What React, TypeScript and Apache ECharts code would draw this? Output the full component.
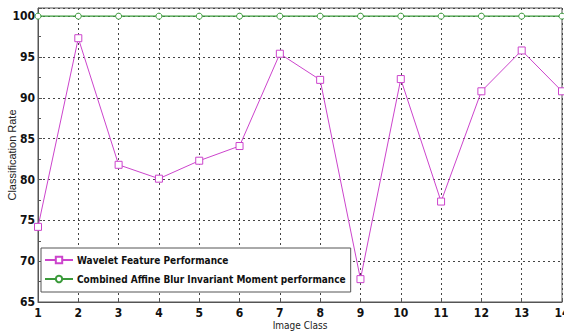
import React, { useEffect, useRef } from "react";
import * as echarts from "echarts";

const classes = [1, 2, 3, 4, 5, 6, 7, 8, 9, 10, 11, 12, 13, 14];
const waveletValues = [74.2, 97.3, 81.8, 80.1, 82.3, 84.1, 95.4, 92.2, 67.8, 92.3, 77.3, 90.8, 95.8, 90.8];
const combinedValues = [100, 100, 100, 100, 100, 100, 100, 100, 100, 100, 100, 100, 100, 100];
const seriesNames = ["Wavelet Feature Performance", "Combined Affine Blur Invariant Moment performance"];

const NARROW = "'Liberation Sans Narrow', 'DejaVu Sans Condensed', 'Liberation Sans', Arial, sans-serif";

export default function App() {
  const ref = useRef<HTMLDivElement>(null);
  useEffect(() => {
    if (!ref.current) return;
    const chart = echarts.init(ref.current, null, { renderer: "svg" });
    chart.setOption({
      animation: false,
      backgroundColor: "#ffffff",
      grid: { left: 38, right: 2, top: 8, bottom: 29, show: true, borderColor: "#555", borderWidth: 1, backgroundColor: "transparent", containLabel: false, outerBoundsMode: "none" },
      legend: {
        orient: "vertical",
        left: 41,
        top: 248,
        backgroundColor: "#ffffff",
        borderColor: "#555",
        borderWidth: 1,
        borderRadius: 0,
        padding: [7, 5, 8, 3],
        itemGap: 9,
        itemWidth: 28,
        itemHeight: 8,
        textStyle: { fontFamily: NARROW, fontSize: 10, fontWeight: "bold", color: "#111", padding: [0, 0, 0, -1] },
        data: seriesNames,
      },
      xAxis: {
        type: "value",
        min: 1,
        max: 14,
        interval: 1,
        name: "Image Class",
        nameLocation: "middle",
        nameGap: 18,
        nameMoveOverlap: false,
        nameTextStyle: { fontFamily: NARROW, fontSize: 10, color: "#222", verticalAlign: "top" },
        axisLine: { show: true, lineStyle: { color: "#555" } },
        axisTick: { show: true, inside: true, length: 4, lineStyle: { color: "#555" } },
        axisLabel: { fontFamily: NARROW, fontSize: 12, fontWeight: "bold", color: "#111", margin: 5 },
        splitLine: { show: true, lineStyle: { color: "#444", type: [2, 3], width: 1 } },
      },
      yAxis: {
        type: "value",
        min: 65,
        max: 101,
        interval: 5,
        name: "Classification Rate",
        nameLocation: "middle",
        nameGap: 21,
        nameMoveOverlap: false,
        nameTextStyle: { fontFamily: "'Liberation Sans', Arial, sans-serif", fontSize: 11, color: "#222" },
        axisLine: { show: true, lineStyle: { color: "#555" } },
        axisTick: { show: true, inside: true, length: 4, lineStyle: { color: "#555" } },
        minorTick: { show: true, splitNumber: 2, length: 3, lineStyle: { color: "#555" } },
        axisLabel: { fontFamily: NARROW, fontSize: 12, fontWeight: "bold", color: "#111", margin: 3 },
        splitLine: { show: true, lineStyle: { color: "#444", type: [2, 3], width: 1 } },
      },
      series: [
        {
          name: seriesNames[0],
          type: "line",
          data: classes.map((c, i) => [c, waveletValues[i]]),
          symbol: "rect",
          symbolSize: 7,
          showAllSymbol: true,
          itemStyle: { color: "#ffffff", borderColor: "#cc44cc", borderWidth: 1 },
          lineStyle: { color: "#cc44cc", width: 1 },
          z: 3,
        },
        {
          name: seriesNames[1],
          type: "line",
          data: classes.map((c, i) => [c, combinedValues[i]]),
          symbol: "circle",
          symbolSize: 6,
          showAllSymbol: true,
          itemStyle: { color: "#ffffff", borderColor: "#3a9a3a", borderWidth: 1 },
          lineStyle: { color: "#3a9a3a", width: 1.2 },
          z: 3,
        },
      ],
    });
    return () => chart.dispose();
  }, []);
  return <div ref={ref} style={{ width: 564, height: 331, position: "absolute", left: 0, top: 0 }} />;
}
